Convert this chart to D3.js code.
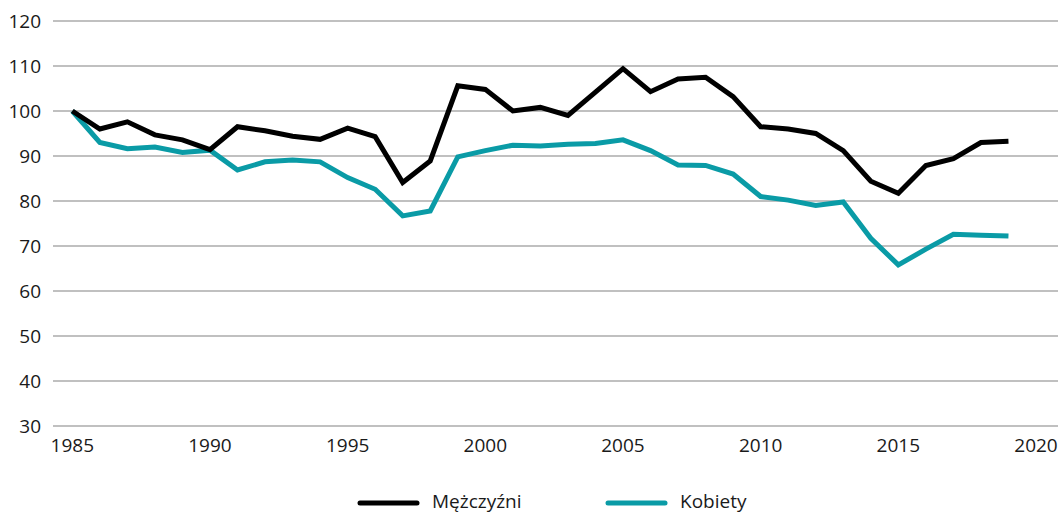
<!DOCTYPE html>
<html>
<head>
<meta charset="utf-8">
<script src="https://cdn.jsdelivr.net/npm/d3@7"></script>
<style>
  body { margin: 0; background: #fff; }
  svg text { font-family: "Open Sans", sans-serif; fill: #1a1a1a; }
</style>
</head>
<body>
<div id="chart"></div>
<script>
// Index, 1985 = 100
const years = d3.range(1985, 2020);
const men = [100, 96.0, 97.6, 94.7, 93.6, 91.4, 96.5, 95.6, 94.4, 93.7,
             96.2, 94.3, 84.1, 88.9, 105.6, 104.8, 100.0, 100.8, 99.0, 104.2,
             109.4, 104.3, 107.1, 107.5, 103.2, 96.5, 96.0, 95.0, 91.2, 84.4,
             81.7, 87.9, 89.4, 93.0, 93.3];
const women = [100, 93.0, 91.6, 92.0, 90.8, 91.3, 86.9, 88.7, 89.1, 88.7,
               85.2, 82.6, 76.7, 77.8, 89.8, 91.2, 92.4, 92.2, 92.6, 92.8,
               93.6, 91.2, 88.0, 87.9, 86.0, 81.0, 80.2, 79.0, 79.8, 71.7,
               65.8, 69.3, 72.6, 72.4, 72.2];
const yTicks = d3.range(30, 121, 10);
const xTicks = d3.range(1985, 2021, 5);
const seriesNames = ["Mężczyźni", "Kobiety"];
const colors = ["#000000", "#0a9ba6"];

const width = 1059, height = 513;

const svg = d3.select("#chart").append("svg")
    .attr("width", width)
    .attr("height", height);

const x = d3.scaleLinear().domain([1985, 2020]).range([72.3, 1036]);
const y = d3.scaleLinear().domain([30, 120]).range([426, 21]);

// gridlines
svg.append("g")
    .selectAll("line")
    .data(yTicks)
    .enter()
    .append("line")
    .attr("x1", 53)
    .attr("x2", 1058)
    .attr("y1", d => y(d))
    .attr("y2", d => y(d))
    .attr("stroke", "#ababab")
    .attr("stroke-width", 1.5);

// y labels
svg.append("g")
    .selectAll("text")
    .data(yTicks)
    .enter()
    .append("text")
    .attr("x", 41)
    .attr("y", d => y(d))
    .attr("dy", "0.36em")
    .attr("text-anchor", "end")
    .style("font-size", "19px")
    .text(d => d);

// x labels
svg.append("g")
    .selectAll("text")
    .data(xTicks)
    .enter()
    .append("text")
    .attr("x", d => x(d))
    .attr("y", 452)
    .attr("text-anchor", "middle")
    .style("font-size", "19px")
    .text(d => d);

const line = d3.line()
    .x((d, i) => x(years[i]))
    .y(d => y(d));

[women, men].forEach((s, k) => {
    svg.append("path")
        .datum(s)
        .attr("fill", "none")
        .attr("stroke", k === 0 ? colors[1] : colors[0])
        .attr("stroke-width", 5)
        .attr("stroke-linejoin", "miter")
        .attr("d", line);
});

// legend
const legendX = [360, 608];
const legend = svg.append("g")
    .selectAll("g")
    .data(seriesNames)
    .enter()
    .append("g")
    .attr("transform", (d, i) => `translate(${legendX[i]},503)`);

legend.append("line")
    .attr("x1", 0)
    .attr("x2", 57)
    .attr("stroke", (d, i) => colors[i])
    .attr("stroke-width", 5)
    .attr("stroke-linecap", "round");

legend.append("text")
    .attr("x", 72)
    .attr("y", 5)
    .style("font-size", "19px")
    .text(d => d);
</script>
</body>
</html>
